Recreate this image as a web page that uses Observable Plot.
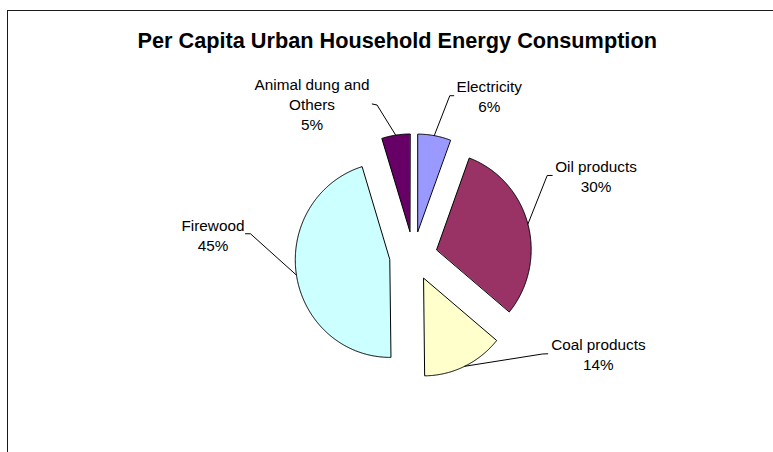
<!DOCTYPE html>
<html><head><meta charset="utf-8">
<script src="https://cdn.jsdelivr.net/npm/d3@7"></script>
<script src="https://cdn.jsdelivr.net/npm/@observablehq/plot@0.6"></script>
<style>
html,body{margin:0;padding:0;overflow:hidden;background:#fff;}
#wrap{position:relative;width:773px;height:452px;overflow:hidden;}
#chart svg{display:block;max-width:none;}
#border{position:absolute;left:6.75px;top:9.75px;width:2000px;height:2000px;border-left:1.5px solid #1a1a1a;border-top:1.5px solid #1a1a1a;pointer-events:none;}
</style></head><body><div id="wrap"><div id="chart"></div><div id="border"></div></div>
<script>
// ---- data ----
const title = "Per Capita Urban Household Energy Consumption";
const categories = ["Electricity", "Oil products", "Coal products", "Firewood", "Animal dung and Others"];
const shares = [5.6, 30.4, 13.8, 45.4, 4.8];
const colors = ["#9999FF", "#993366", "#FFFFCC", "#CCFFFF", "#660066"];

// ---- layout (in unit-radius coordinates of the pie) ----
const explode = 0.254;
const labelCenters = [[0.801, 1.650], [1.931, 0.822], [1.956, -0.999], [-2.122, 0.224], [-1.074, 1.559]];
const leaderStarts = [[0.426, 1.644], [1.468, 0.826], [1.421, -1.003], [-1.778, 0.228], [-0.437, 1.559]];
const leaderElbows = [[0.384, 1.644], [1.415, 0.826], [1.365, -1.005], [-1.725, 0.228], [-0.386, 1.549]];

const pie = d3.pie().sort(null).value(d => d)(shares);
const slices = [], leaders = [], labels = [];
categories.forEach((name, i) => {
  const a0 = pie[i].startAngle, a1 = pie[i].endAngle;
  const m = (a0 + a1) / 2;
  const ox = explode * Math.sin(m), oy = explode * Math.cos(m);
  slices.push({name, x: ox, y: oy});
  const n = Math.max(2, Math.ceil((a1 - a0) / (Math.PI / 360)));
  for (let k = 0; k <= n; k++) {
    const t = a0 + (a1 - a0) * k / n;
    slices.push({name, x: ox + Math.sin(t), y: oy + Math.cos(t)});
  }
  leaders.push(
    {name, x: leaderStarts[i][0], y: leaderStarts[i][1]},
    {name, x: leaderElbows[i][0], y: leaderElbows[i][1]},
    {name, x: ox + Math.sin(m), y: oy + Math.cos(m)}
  );
  labels.push({name, x: labelCenters[i][0], y: labelCenters[i][1], text: `${name}\n${Math.round(shares[i])}%`});
});

const cx = 413, cy = 255.5, rx = 94.5, ry = 97.5;
const chart = Plot.plot({
  width: 773, height: 452,
  marginLeft: 0, marginTop: 0, marginRight: 0, marginBottom: 0,
  x: {type: "linear", domain: [-1, 1], range: [cx - rx, cx + rx], axis: null},
  y: {type: "linear", domain: [-1, 1], range: [cy + ry, cy - ry], axis: null},
  color: {domain: categories, range: colors},
  style: {fontFamily: "'Liberation Sans', Arial, sans-serif", background: "#fff", maxWidth: "none"},
  marks: [
    Plot.line(slices, {x: "x", y: "y", z: "name", fill: "name", stroke: "black", strokeWidth: 1, curve: "linear-closed"}),
    Plot.line(leaders, {x: "x", y: "y", z: "name", stroke: "black", strokeWidth: 1}),
    Plot.text(labels, {x: "x", y: "y", text: "text", lineWidth: 9, lineHeight: 1.307, fontSize: 15.3, fill: "black"}),
    Plot.text([title], {frameAnchor: "top-left", textAnchor: "middle", dx: 396.7, dy: 31.9, fontSize: 21.7, fontWeight: "bold", fill: "black"})
  ]
});
document.getElementById("chart").appendChild(chart);
</script></body></html>
